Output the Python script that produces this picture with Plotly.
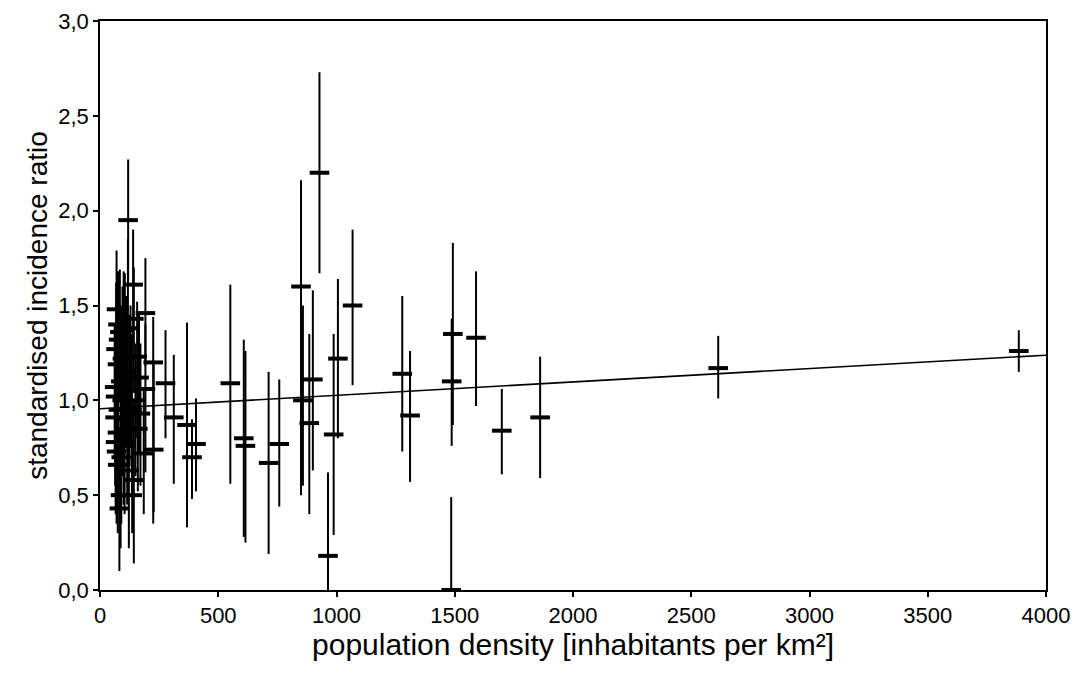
import plotly.graph_objects as go

# population density (inhabitants per km²)
density = [
    119, 140, 70, 143, 192, 84, 100, 68, 74, 157, 225, 62, 129, 192, 66, 94,
    171, 64, 100, 74, 66, 70, 185, 227, 75, 122, 143, 87, 136, 82, 105, 110,
    88, 78, 115, 125, 90, 76, 150, 160, 135, 104, 79, 95, 118, 165,
    277, 312, 368, 389, 406, 551, 608, 615, 713, 758, 850, 858, 885, 900,
    928, 964, 988, 1006, 1068, 1278, 1311, 1485, 1487, 1492, 1590, 1699,
    1861, 2614, 3885,
]
# standardised incidence ratio
sir = [
    1.95, 1.61, 1.48, 1.43, 1.46, 1.36, 1.37, 1.27, 1.19, 1.23, 1.20, 1.07,
    1.12, 1.06, 1.02, 1.00, 0.93, 0.91, 0.90, 0.83, 0.78, 0.73, 0.72, 0.74,
    0.66, 0.63, 0.58, 0.50, 0.50, 0.43, 1.30, 1.15, 1.10, 0.95, 0.85, 1.05,
    0.70, 1.40, 1.00, 0.85, 0.95, 0.78, 1.32, 1.22, 1.38, 1.12,
    1.09, 0.91, 0.87, 0.70, 0.77, 1.09, 0.80, 0.76, 0.67, 0.77, 1.60, 1.00,
    0.88, 1.11, 2.20, 0.18, 0.82, 1.22, 1.50, 1.14, 0.92, 0.00, 1.10, 1.35,
    1.33, 0.84, 0.91, 1.17, 1.26,
]
# lower confidence limits
ci_low = [
    1.63, 1.30, 1.17, 1.05, 1.18, 1.02, 1.05, 0.90, 0.75, 0.80, 0.35, 0.70,
    0.75, 0.62, 0.65, 0.60, 0.55, 0.55, 0.45, 0.45, 0.40, 0.35, 0.40, 0.41,
    0.30, 0.22, 0.14, 0.22, 0.30, 0.10, 0.95, 0.75, 0.70, 0.60, 0.45, 0.65,
    0.35, 1.05, 0.60, 0.52, 0.50, 0.40, 1.00, 0.85, 0.95, 0.72,
    0.80, 0.56, 0.33, 0.48, 0.52, 0.56, 0.28, 0.25, 0.19, 0.44, 0.50, 0.55,
    0.40, 0.63, 1.67, 0.00, 0.29, 0.80, 1.08, 0.73, 0.57, 0.00, 0.76, 0.87,
    0.97, 0.61, 0.59, 1.01, 1.15,
]
# upper confidence limits
ci_high = [
    2.27, 1.90, 1.79, 1.70, 1.75, 1.69, 1.68, 1.62, 1.60, 1.52, 1.44, 1.40,
    1.50, 1.40, 1.35, 1.45, 1.30, 1.25, 1.35, 1.20, 1.15, 1.10, 1.05, 1.20,
    1.00, 1.05, 1.00, 0.90, 0.78, 0.85, 1.67, 1.55, 1.50, 1.30, 1.25, 1.45,
    1.05, 1.68, 1.30, 1.15, 1.35, 1.20, 1.60, 1.60, 1.85, 1.45,
    1.37, 1.24, 1.41, 0.90, 1.01, 1.61, 1.32, 1.26, 1.15, 1.11, 2.16, 1.50,
    1.35, 1.58, 2.73, 0.62, 1.35, 1.64, 1.90, 1.55, 1.26, 0.49, 1.43, 1.83,
    1.68, 1.06, 1.23, 1.34, 1.37,
]

# regression line
trend_intercept = 0.956
trend_slope = 0.0000705
x_range = [0, 4000]

x_tickvals = [0, 500, 1000, 1500, 2000, 2500, 3000, 3500, 4000]
x_ticktext = ["0", "500", "1000", "1500", "2000", "2500", "3000", "3500", "4000"]
y_tickvals = [0.0, 0.5, 1.0, 1.5, 2.0, 2.5, 3.0]
y_ticktext = ["0,0", "0,5", "1,0", "1,5", "2,0", "2,5", "3,0"]

err_plus = [h - s for h, s in zip(ci_high, sir)]
err_minus = [s - l for s, l in zip(sir, ci_low)]

FONT = "Liberation Sans, Arial, sans-serif"

fig = go.Figure()
fig.add_trace(go.Scatter(
    x=density, y=sir, mode="markers",
    marker=dict(symbol="line-ew", size=14, color="black",
                line=dict(color="black", width=4)),
    error_y=dict(type="data", symmetric=False, array=err_plus,
                 arrayminus=err_minus, color="black", thickness=2, width=0),
    showlegend=False, cliponaxis=False,
))
fig.add_trace(go.Scatter(
    x=x_range, y=[trend_intercept + trend_slope * v for v in x_range],
    mode="lines", line=dict(color="black", width=1.6), showlegend=False,
))

fig.update_layout(
    width=1076, height=681,
    margin=dict(l=99.5, r=30, t=20.5, b=91),
    paper_bgcolor="white", plot_bgcolor="white",
    font=dict(family=FONT, color="black", size=22),
)
fig.update_xaxes(
    range=x_range, tickvals=x_tickvals, ticktext=x_ticktext,
    automargin=False,
    showgrid=False, zeroline=False, showline=True, linecolor="black",
    linewidth=1.5, mirror=True, ticks="outside", ticklen=5, tickwidth=1.5,
    tickcolor="black", tickfont=dict(size=22, family=FONT),
    title=dict(text="population density [inhabitants per km²]",
               font=dict(size=30, family=FONT), standoff=0),
)
fig.update_yaxes(
    range=[0, 3], tickvals=y_tickvals, ticktext=y_ticktext,
    automargin=False,
    showgrid=False, zeroline=False, showline=True, linecolor="black",
    linewidth=1.5, mirror=True, ticks="outside", ticklen=5, tickwidth=1.5,
    tickcolor="black", tickfont=dict(size=22, family=FONT),
    title=dict(text="standardised incidence ratio",
               font=dict(size=28, family=FONT), standoff=2),
)

fig.write_html("out.html")
